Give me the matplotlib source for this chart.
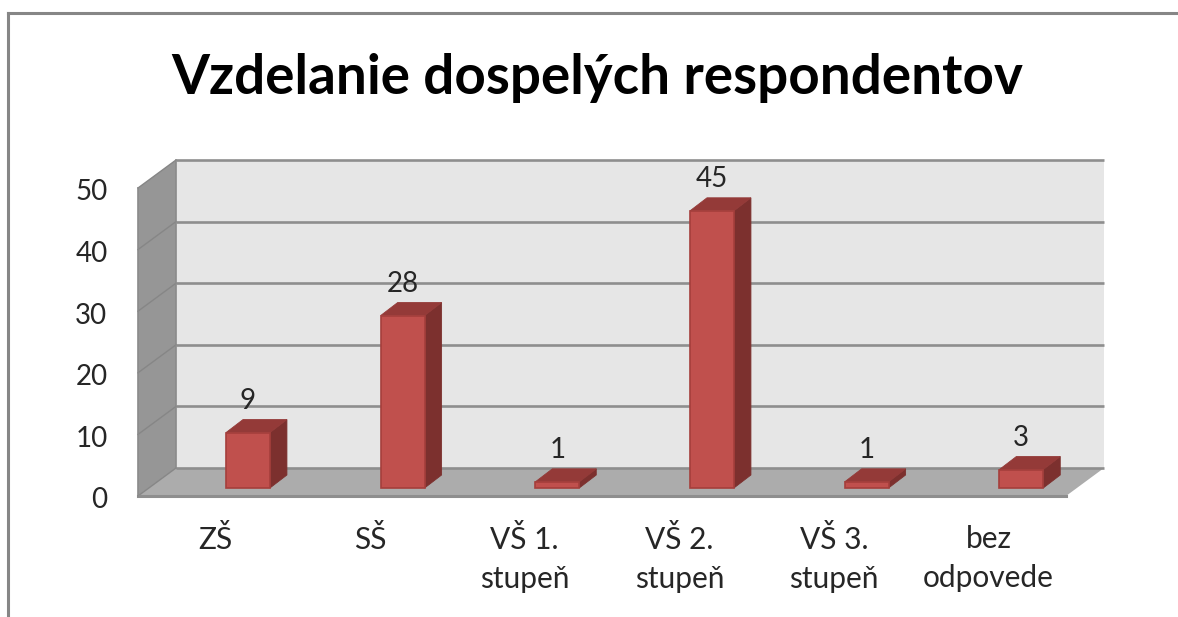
import matplotlib
matplotlib.use("Agg")
import matplotlib.pyplot as plt
from matplotlib.lines import Line2D
from matplotlib.transforms import Affine2D

title = "Vzdelanie dospelých respondentov"
categories = ["ZŠ", "SŠ", "VŠ 1.\nstupeň", "VŠ 2.\nstupeň", "VŠ 3.\nstupeň", "bez\nodpovede"]
values = [9, 28, 1, 45, 1, 3]
y_ticks = [0, 10, 20, 30, 40, 50]

W, H = 1178, 617
plt.rcParams['font.family'] = ['Lato', 'DejaVu Sans']
fig = plt.figure(figsize=(W / 100, H / 100), dpi=100, facecolor='white')

# front plane of the 3D box in pixels
L, R, B, T = 138, 1066, 496, 188
ax = fig.add_axes([L / W, 1 - B / H, (R - L) / W, (B - T) / H])
ax.set_xlim(0, 6)
ax.set_ylim(0, 50)
ax.patch.set_alpha(0)
for s in ax.spines.values():
    s.set_visible(False)

px_x = 6 / (R - L)
px_y = 50 / (B - T)
DX, DY = 38 * px_x, 28 * px_y       # box depth
bx, by = 17 * px_x, 13 * px_y       # bar depth
bar_left = 0.569
bar_w = 0.284
base = 8 * px_y

GRID = '#8e8e8e'
ax.fill([0, DX, DX, 0], [0, DY, 50 + DY, 50], color='#969696', lw=0, zorder=1, clip_on=False)
ax.fill([DX, 6 + DX, 6 + DX, DX], [DY, DY, 50 + DY, 50 + DY], color='#e6e6e6', lw=0, zorder=1, clip_on=False)
ax.fill([0, 6, 6 + DX, DX], [0, 0, DY, DY], color='#acacac', lw=0, zorder=2, clip_on=False)

for t in y_ticks:
    ax.plot([DX, 6 + DX], [t + DY, t + DY], color=GRID, lw=1.9, zorder=2.5, clip_on=False, solid_capstyle='butt')
    ax.plot([0, DX], [t, t + DY], color='#868686', lw=1.0, zorder=2.5, clip_on=False)
ax.plot([0, 6], [0, 0], color=GRID, lw=2.2, zorder=3, clip_on=False)
ax.plot([0, 0], [0, 50], color='#8a8a8a', lw=1.2, zorder=3, clip_on=False)
ax.plot([DX, DX], [DY, 50 + DY], color='#8a8a8a', lw=1.2, zorder=3, clip_on=False)

for i, v in enumerate(values):
    x0 = i + bar_left
    x1 = x0 + bar_w
    top = base + v
    ax.fill([x1, x1 + bx, x1 + bx, x1], [base, base + by, top + by, top],
            color='#7c302e', lw=0.6, ec='#7c302e', zorder=4, clip_on=False)
    ax.fill([x0, x1, x1 + bx, x0 + bx], [top, top, top + by, top + by],
            color='#943a38', lw=0.6, ec='#943a38', zorder=4, clip_on=False)
    ax.annotate(str(v), (x0 + bar_w / 2, top), xytext=(0, 23), textcoords='offset points',
                ha='center', va='center', fontsize=20, color='#262626', zorder=6)
ax.bar([i + bar_left for i in range(len(values))], values, width=bar_w, bottom=base, align='edge',
       color='#c0504d', edgecolor='#a53f3c', linewidth=1.2, zorder=5, clip_on=False)

ax.set_yticks(y_ticks)
ax.set_yticklabels([str(t) for t in y_ticks], fontsize=20, color='#262626')
ax.tick_params(axis='y', length=0, pad=22)
for lab in ax.get_yticklabels():
    lab.set_transform(lab.get_transform() + Affine2D().translate(0, -2))
ax.set_xticks([i + 0.5 for i in range(len(categories))])
ax.set_xticklabels(categories, fontsize=21.5, color='#262626', linespacing=1.45)
ax.tick_params(axis='x', length=0, pad=21)

fig.text(597 / W, 1 - 78 / H, title, fontsize=39.4, fontweight='bold', color='black', ha='center', va='center')

# chart frame, open at right and bottom
fig.add_artist(Line2D([8 / W, 1], [1 - 13 / H, 1 - 13 / H], color='#868686', lw=2.2))
fig.add_artist(Line2D([8 / W, 8 / W], [0, 1 - 13 / H], color='#868686', lw=2.2))

fig.savefig('out.png', dpi=100)
